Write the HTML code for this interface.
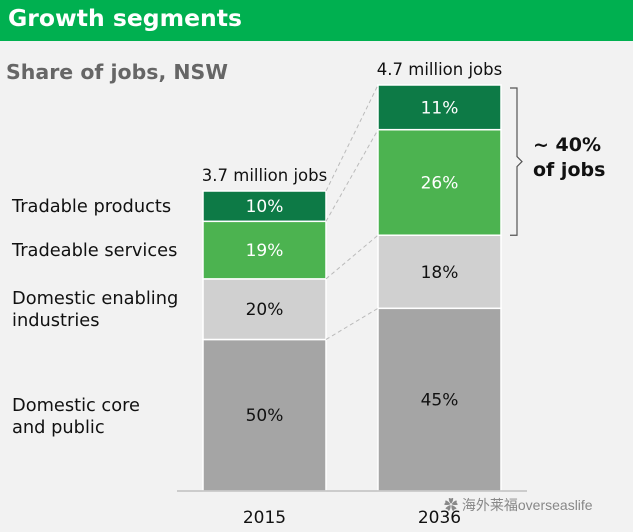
<!DOCTYPE html>
<html><head><meta charset="utf-8"><style>
body{margin:0;background:#f2f2f2;font-family:"DejaVu Sans","Noto Sans CJK SC",sans-serif;}
#wrap{position:relative;width:633px;height:532px;overflow:hidden;background:#f2f2f2}
#hdr{position:absolute;left:0;top:0;width:633px;height:41px;background:#00b050}
#hdr span{position:absolute;left:8px;top:4px;font-size:23.5px;font-weight:bold;color:#fff}
.t{position:absolute;font-size:17.8px;color:#111;line-height:22px}
</style></head><body>
<div id="wrap">
<div id="hdr"><span>Growth segments</span></div>
<div class="t" style="left:6px;top:61px;font-size:20.5px;font-weight:bold;color:#666">Share of jobs, NSW</div>
<div class="t" style="left:12px;top:196px">Tradable products</div>
<div class="t" style="left:12px;top:240px">Tradeable services</div>
<div class="t" style="left:12px;top:288px">Domestic enabling<br>industries</div>
<div class="t" style="left:12px;top:395px">Domestic core<br>and public</div>
<div class="t" style="left:533px;top:133px;font-size:19px;font-weight:bold;line-height:25px">~ 40%<br>of jobs</div>
<div class="t" style="left:444px;top:494px;font-size:14px;color:#888;font-family:'Liberation Sans','Noto Sans CJK SC',sans-serif">✿ 海外莱福overseaslife</div>
<svg id="svg" width="633" height="532" style="position:absolute;left:0;top:0"></svg>
</div>
<script>
const years=["2015","2036"];
const totals=[3.7,4.7];
const totalLabels=["3.7 million jobs","4.7 million jobs"];
const coreVals=[50,45];
const enablingVals=[20,18];
const servicesVals=[19,26];
const productsVals=[10,11];
const NS="http://www.w3.org/2000/svg";
const svg=document.getElementById('svg');
const base=491;
const FF="DejaVu Sans, sans-serif";
function yScale(v){return base-(v-0.87)/(4.7-0.87)*406;}
const xLeft=[203,378], bw=123;
function mk(t,a){const e=document.createElementNS(NS,t);for(const k in a)e.setAttribute(k,a[k]);svg.appendChild(e);return e;}
const series=[
 {vals:coreVals,color:"#a5a5a5",tc:"#111",name:"core"},
 {vals:enablingVals,color:"#d0d0d0",tc:"#111",name:"enabling"},
 {vals:servicesVals,color:"#4cb350",tc:"#fff",name:"services"},
 {vals:productsVals,color:"#0d7a46",tc:"#fff",name:"products"}];
const bounds=[[],[]];
years.forEach((yr,i)=>{
 const top=yScale(totals[i]);const H=base-top;
 const sum=series.reduce((s,se)=>s+se.vals[i],0);
 let y=base;bounds[i].push(base);
 series.forEach(se=>{
  const h=H*se.vals[i]/sum;
  const r=mk('rect',{x:xLeft[i],y:y-h,width:bw,height:h,fill:se.color,stroke:"#fff","stroke-width":1.5});
  
  
  const t=mk('text',{x:xLeft[i]+bw/2,y:y-h/2+6,"text-anchor":"middle","font-size":17,fill:se.tc,"font-family":FF});
  t.textContent=se.vals[i]+"%";
  
  
  y-=h;bounds[i].push(y);
 });
 const tl=mk('text',{x:xLeft[i]+bw/2,y:top-10,"text-anchor":"middle","font-size":16.5,fill:"#111","font-family":FF});
 tl.textContent=totalLabels[i];
 
 
 const xl=mk('text',{x:xLeft[i]+bw/2,y:523,"text-anchor":"middle","font-size":17,fill:"#111","font-family":FF});
 xl.textContent=yr;
 
 
});
for(let k=1;k<bounds[0].length;k++){
 const l=mk('line',{x1:xLeft[0]+bw,y1:bounds[0][k],x2:xLeft[1],y2:bounds[1][k],stroke:"#bbb","stroke-dasharray":"4,3","stroke-width":1});
 
 
}
const ax=mk('line',{x1:177,y1:base,x2:527,y2:base,stroke:"#bfbfbf","stroke-width":1.5});


const bt=bounds[1][4]+3,bb=bounds[1][2],bm=(bt+bb)/2;
const br=mk('path',{d:`M510 ${bt} H517 V${bm-5} L522 ${bm} L517 ${bm+5} V${bb} H510`,fill:"none",stroke:"#555","stroke-width":1.2});


</script>
</body></html>
